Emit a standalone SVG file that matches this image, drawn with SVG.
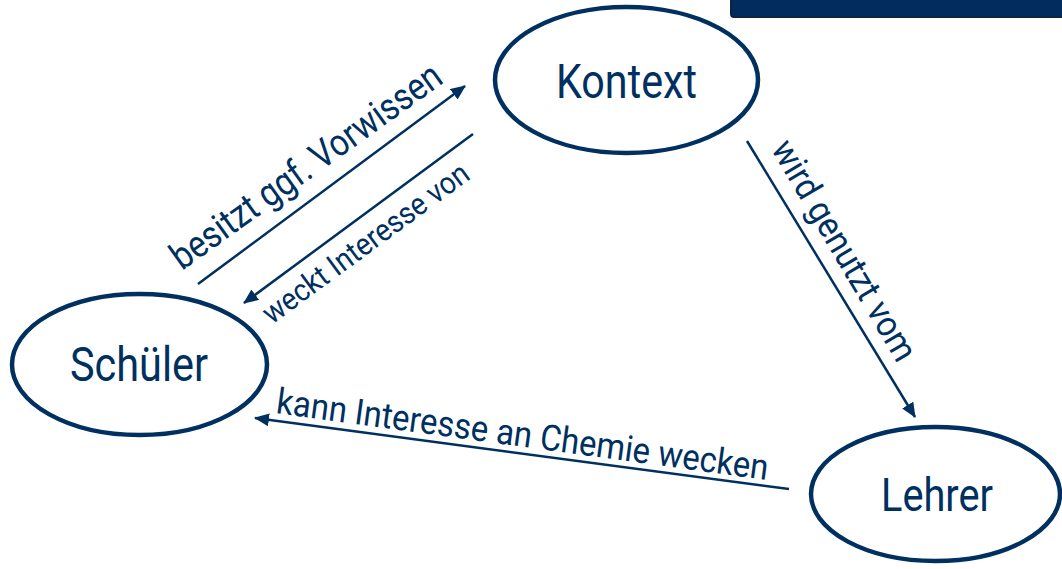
<svg xmlns="http://www.w3.org/2000/svg" width="1062" height="569" viewBox="0 0 1062 569">
  <style>
    .node ellipse { fill: #ffffff; stroke: #00305f; stroke-width: 4.5; }
    .node text { font-family: Roboto, "Liberation Sans", sans-serif; fill: #00305f; text-anchor: middle; }
    .conn line { stroke: #00305f; stroke-width: 2.5; fill: none; }
    .lbl { font-family: Roboto, "Liberation Sans", sans-serif; fill: #00305f; text-anchor: middle; }
  </style>
  <defs>
    <marker id="arrow" markerUnits="userSpaceOnUse" markerWidth="16" markerHeight="14" refX="14" refY="6.5" orient="auto">
      <path d="M0,0 L15,6.5 L0,13 Z" fill="#00305f"/>
    </marker>
  </defs>
  <rect width="1062" height="569" fill="#ffffff"/>

  <g id="header-box">
    <rect x="731" y="-12" width="345" height="29" rx="3" fill="#002d5e" stroke="#0d2340" stroke-width="2"/>
  </g>

  <g id="node-kontext" class="node">
    <ellipse cx="626.5" cy="80" rx="131.5" ry="73"/>
    <text x="626.5" y="98" font-size="49" textLength="141" lengthAdjust="spacingAndGlyphs">Kontext</text>
  </g>
  <g id="node-schueler" class="node">
    <ellipse cx="139.5" cy="364.5" rx="127.5" ry="70.5"/>
    <text x="139" y="381" font-size="48" textLength="138" lengthAdjust="spacingAndGlyphs">Schüler</text>
  </g>
  <g id="node-lehrer" class="node">
    <ellipse cx="935.5" cy="494" rx="124.5" ry="67"/>
    <text x="937" y="511" font-size="47" textLength="112" lengthAdjust="spacingAndGlyphs">Lehrer</text>
  </g>

  <g id="connectors" class="conn">
    <line x1="198" y1="284" x2="465" y2="86" marker-end="url(#arrow)"/>
    <line x1="473" y1="134" x2="244" y2="303" marker-end="url(#arrow)"/>
    <line x1="747" y1="141" x2="915" y2="417" marker-end="url(#arrow)"/>
    <line x1="789" y1="489" x2="255" y2="418" marker-end="url(#arrow)"/>
  </g>

  <g id="labels">
    <text class="lbl" transform="translate(313.5,176.5) rotate(-35.7)" x="0" y="0" font-size="38" textLength="324" lengthAdjust="spacingAndGlyphs">besitzt ggf. Vorwissen</text>
    <text class="lbl" transform="translate(371.7,251.5) rotate(-36.3)" x="0" y="0" font-size="31" textLength="248" lengthAdjust="spacingAndGlyphs">weckt Interesse von</text>
    <text class="lbl" transform="translate(834,256.5) rotate(59.5)" x="0" y="0" font-size="36" textLength="250" lengthAdjust="spacingAndGlyphs">wird genutzt vom</text>
    <text class="lbl" transform="translate(521,446.5) rotate(7.75)" x="0" y="0" font-size="36" textLength="496" lengthAdjust="spacingAndGlyphs">kann Interesse an Chemie wecken</text>
  </g>
</svg>
